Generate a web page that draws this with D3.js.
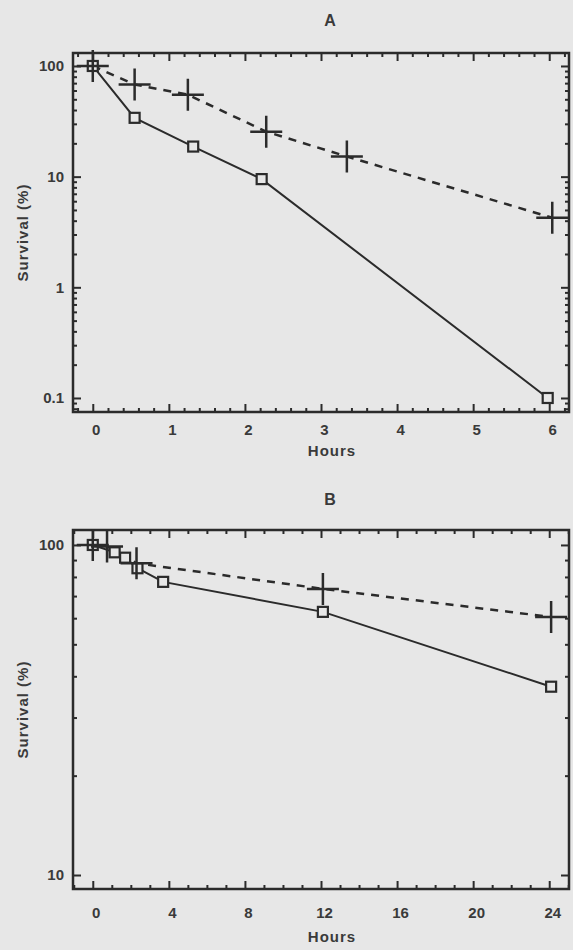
<!DOCTYPE html>
<html>
<head>
<meta charset="utf-8">
<script src="https://cdn.jsdelivr.net/npm/d3@7"></script>
<style>
  body { margin: 0; background: #e7e7e7; }
  svg { display: block; }
</style>
</head>
<body>
<div id="chart"></div>
<script>
// Survival over time, two panels (A: 0-6 h, B: 0-24 h), log y axis

const width = 573;
const height = 950;

// --- DATA ---
const hoursA_sq = [0, 0.55, 1.32, 2.22, 5.98];
const survA_sq = [100, 34, 18.7, 9.5, 0.1];
const hoursA_plus = [0, 0.55, 1.25, 2.28, 3.34, 6.04];
const survA_plus = [100, 68, 55, 25.5, 15.2, 4.25];

const hoursB_sq = [0, 1.15, 1.7, 2.35, 3.7, 12.1, 24.1];
const survB_sq = [100, 95, 91.5, 85, 77.3, 62.7, 37.2];
const hoursB_plus = [0, 0.75, 2.3, 12.1, 24.1];
const survB_plus = [100, 99, 88, 73.6, 60.5];

const xTicksA = [0, 1, 2, 3, 4, 5, 6];
const yTicksA = [0.1, 1, 10, 100];
const xTicksB = [0, 4, 8, 12, 16, 20, 24];
const yTicksB = [10, 100];

const ink = "#2b2b2b";
const textFill = "#3a3a3a";

const svg = d3.select("#chart")
  .append("svg")
  .attr("width", width)
  .attr("height", height)
  .style("font-family", "'Liberation Sans', Arial, sans-serif")
  .style("font-weight", "bold");

function zip(xs, ys) {
  return xs.map((x, i) => ({ x: x, y: ys[i] }));
}

// log minor ticks between decades
function logMinor(lo, hi) {
  const out = [];
  for (let e = Math.floor(Math.log10(lo)); e <= Math.ceil(Math.log10(hi)); e++) {
    for (let k = 2; k <= 9; k++) {
      const v = k * Math.pow(10, e);
      if (v > lo && v < hi) out.push(v);
    }
  }
  return out;
}

function drawPanel(p) {
  const x = d3.scaleLinear().domain(p.xDomain).range([p.left, p.right]);
  const y = d3.scaleLog().domain(p.yDomain).range([p.bottom, p.top]);

  const g = svg.append("g");

  // title
  g.append("text")
    .attr("x", 330)
    .attr("y", p.titleY)
    .attr("text-anchor", "middle")
    .attr("dominant-baseline", "central")
    .style("font-size", "16px")
    .style("fill", textFill)
    .text(p.title);

  // ticks (all pointing inward)
  const major = 8, minor = 4;
  const axes = [
    { gen: d3.axisBottom(x).tickValues(p.xTicks).tickSize(-major).tickPadding(p.xPad).tickFormat(d3.format("d")), at: [0, p.bottom], dx: 3 },
    { gen: d3.axisBottom(x).tickValues(p.xMinor).tickSize(-minor).tickFormat(""), at: [0, p.bottom] },
    { gen: d3.axisTop(x).tickValues(p.xTicks).tickSize(-major).tickFormat(""), at: [0, p.top] },
    { gen: d3.axisTop(x).tickValues(p.xMinor).tickSize(-minor).tickFormat(""), at: [0, p.top] },
    { gen: d3.axisLeft(y).tickValues(p.yTicks).tickSize(-major).tickPadding(9).tickFormat(d3.format("~g")), at: [p.left, 0], dx: 0 },
    { gen: d3.axisLeft(y).tickValues(logMinor(p.yDomain[0], p.yDomain[1])).tickSize(-minor).tickFormat(""), at: [p.left, 0] },
    { gen: d3.axisRight(y).tickValues(p.yTicks).tickSize(-major).tickFormat(""), at: [p.right, 0] },
    { gen: d3.axisRight(y).tickValues(logMinor(p.yDomain[0], p.yDomain[1])).tickSize(-minor).tickFormat(""), at: [p.right, 0] }
  ];

  axes.forEach(a => {
    const ag = g.append("g")
      .attr("transform", `translate(${a.at[0]},${a.at[1]})`)
      .call(a.gen);
    ag.select(".domain").remove();
    ag.selectAll("line").attr("stroke", ink).attr("stroke-width", 2);
    ag.selectAll("text")
      .attr("dx", a.dx || 0)
      .style("font-size", "15px")
      .style("font-family", "'Liberation Sans', Arial, sans-serif")
      .style("font-weight", "bold")
      .attr("fill", textFill);
  });

  // frame
  g.append("rect")
    .attr("x", p.left)
    .attr("y", p.top)
    .attr("width", p.right - p.left)
    .attr("height", p.bottom - p.top)
    .attr("fill", "none")
    .attr("stroke", ink)
    .attr("stroke-width", 2.5);

  // axis titles
  g.append("text")
    .attr("x", 332)
    .attr("y", p.hoursY)
    .attr("text-anchor", "middle")
    .attr("dominant-baseline", "central")
    .style("font-size", "15px")
    .style("letter-spacing", "1px")
    .style("fill", textFill)
    .text("Hours");

  g.append("text")
    .attr("transform", `translate(22,${(p.top + p.bottom) / 2}) rotate(-90)`)
    .attr("text-anchor", "middle")
    .attr("dominant-baseline", "central")
    .style("font-size", "15px")
    .style("letter-spacing", "1px")
    .style("fill", textFill)
    .text("Survival (%)");

  const line = d3.line().x(d => x(d.x)).y(d => y(d.y));

  const sq = zip(p.sqX, p.sqY);
  const pl = zip(p.plX, p.plY);

  // dashed series (+)
  g.append("path")
    .datum(pl)
    .attr("d", line)
    .attr("fill", "none")
    .attr("stroke", ink)
    .attr("stroke-width", 2.5)
    .attr("stroke-dasharray", "8,7");

  // solid series (squares)
  g.append("path")
    .datum(sq)
    .attr("d", line)
    .attr("fill", "none")
    .attr("stroke", ink)
    .attr("stroke-width", 2);

  const s = 10;
  g.append("g")
    .selectAll("rect")
    .data(sq)
    .join("rect")
    .attr("x", d => x(d.x) - s / 2)
    .attr("y", d => y(d.y) - s / 2)
    .attr("width", s)
    .attr("height", s)
    .attr("fill", "#e7e7e7")
    .attr("stroke", ink)
    .attr("stroke-width", 2.2);

  const h = 16;
  g.append("g")
    .selectAll("path")
    .data(pl)
    .join("path")
    .attr("d", d => {
      const cx = x(d.x), cy = y(d.y);
      return `M${cx - h},${cy}H${cx + h}M${cx},${cy - h}V${cy + h}`;
    })
    .attr("fill", "none")
    .attr("stroke", ink)
    .attr("stroke-width", 2.5);
}

drawPanel({
  title: "A", titleY: 20,
  left: 73, right: 569, top: 53, bottom: 412,
  xDomain: [-0.26, 6.26], yDomain: [0.0747, 131],
  xTicks: xTicksA, xMinor: d3.range(-0.2, 6.3, 0.2).map(v => +v.toFixed(1)).filter(v => Math.abs(v - Math.round(v)) > 1e-6),
  yTicks: yTicksA, xPad: 12, hoursY: 450,
  sqX: hoursA_sq, sqY: survA_sq, plX: hoursA_plus, plY: survA_plus
});

drawPanel({
  title: "B", titleY: 499,
  left: 73, right: 569, top: 530, bottom: 889,
  xDomain: [-1.04, 25.04], yDomain: [9.07, 111],
  xTicks: xTicksB, xMinor: d3.range(-1, 26, 1).filter(v => v % 4 !== 0),
  yTicks: yTicksB, xPad: 18, hoursY: 936,
  sqX: hoursB_sq, sqY: survB_sq, plX: hoursB_plus, plY: survB_plus
});
</script>
</body>
</html>
